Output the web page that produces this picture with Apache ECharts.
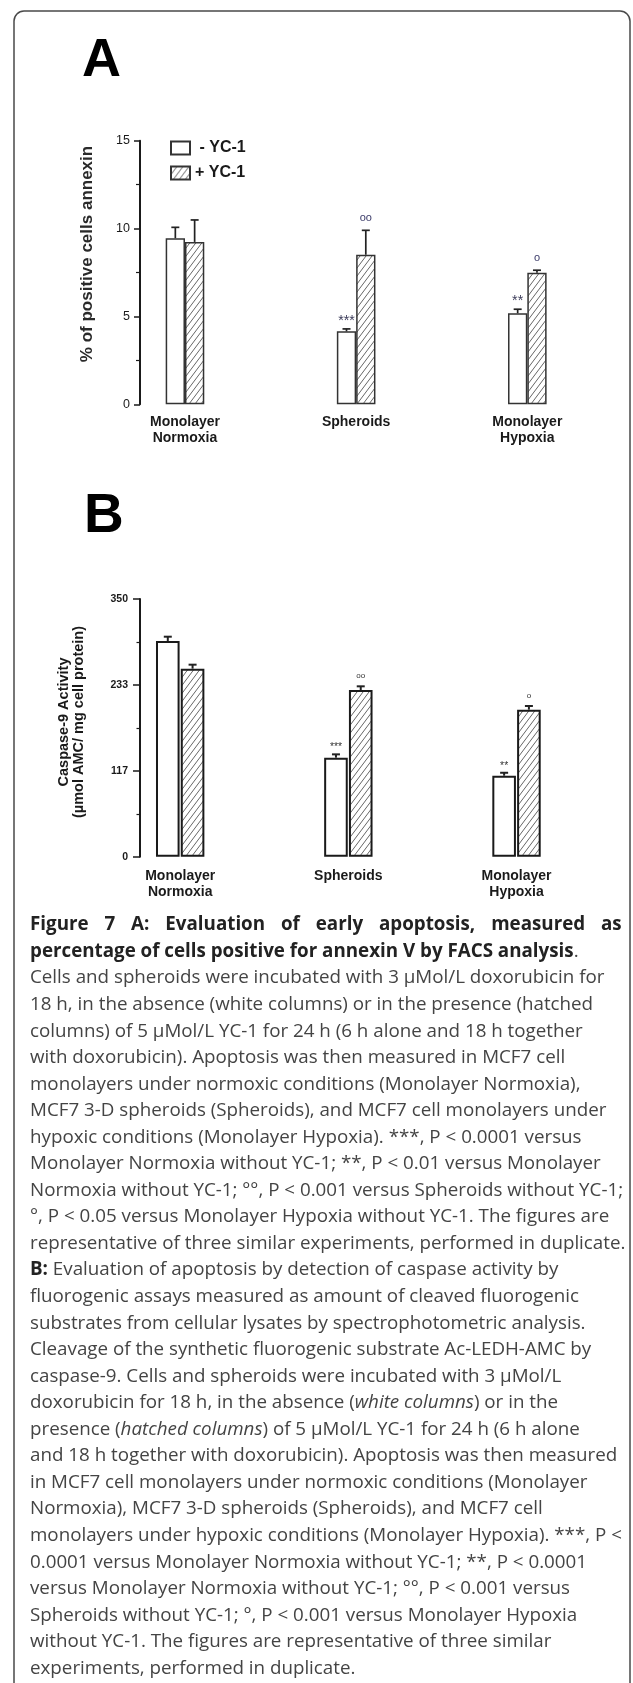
<!DOCTYPE html>
<html><head><meta charset="utf-8">
<script src="https://cdn.jsdelivr.net/npm/echarts@6/dist/echarts.min.js"></script>
<style>html,body{margin:0;padding:0;background:#fff}#c{width:633px;height:1683px}</style>
</head><body><div id="c"></div>
<script>
// ---------------- data ----------------
const categories = ['Monolayer\nNormoxia', 'Spheroids', 'Monolayer\nHypoxia'];
const seriesNames = ['- YC-1', '+ YC-1'];

// Panel A: % of positive cells annexin
const annexinTicks = [0, 5, 10, 15];
const annexinWithout = [9.45, 4.15, 5.18];
const annexinWithoutSD = [0.62, 0.14, 0.23];
const annexinWith = [9.24, 8.51, 7.49];
const annexinWithSD = [1.25, 1.39, 0.14];
const annexinMarksWithout = ['', '***', '**'];
const annexinMarksWith = ['', 'oo', 'o'];

// Panel B: Caspase-9 activity
const caspaseTicks = [0, 117, 233, 350];
const caspaseWithout = [293, 134.5, 110];
const caspaseWithoutSD = [5.8, 4.5, 4];
const caspaseWith = [255.4, 226.4, 199.7];
const caspaseWithSD = [5.4, 5, 5];
const caspaseMarksWithout = ['', '***', '**'];
const caspaseMarksWith = ['', 'oo', 'o'];

const captionHeading = 'Figure 7 A: Evaluation of early apoptosis, measured as';
const captionLines = [
  '{b|percentage of cells positive for annexin V by FACS analysis}.',
  'Cells and spheroids were incubated with 3 µMol/L doxorubicin for',
  '18 h, in the absence (white columns) or in the presence (hatched',
  'columns) of 5 µMol/L YC-1 for 24 h (6 h alone and 18 h together',
  'with doxorubicin). Apoptosis was then measured in MCF7 cell',
  'monolayers under normoxic conditions (Monolayer Normoxia),',
  'MCF7 3-D spheroids (Spheroids), and MCF7 cell monolayers under',
  'hypoxic conditions (Monolayer Hypoxia). ***, P < 0.0001 versus',
  'Monolayer Normoxia without YC-1; **, P < 0.01 versus Monolayer',
  'Normoxia without YC-1; °°, P < 0.001 versus Spheroids without YC-1;',
  '°, P < 0.05 versus Monolayer Hypoxia without YC-1. The figures are',
  'representative of three similar experiments, performed in duplicate.',
  '{b|B:} Evaluation of apoptosis by detection of caspase activity by',
  'fluorogenic assays measured as amount of cleaved fluorogenic',
  'substrates from cellular lysates by spectrophotometric analysis.',
  'Cleavage of the synthetic fluorogenic substrate Ac-LEDH-AMC by',
  'caspase-9. Cells and spheroids were incubated with 3 µMol/L',
  'doxorubicin for 18 h, in the absence ({i|white columns}) or in the',
  'presence ({i|hatched columns}) of 5 µMol/L YC-1 for 24 h (6 h alone',
  'and 18 h together with doxorubicin). Apoptosis was then measured',
  'in MCF7 cell monolayers under normoxic conditions (Monolayer',
  'Normoxia), MCF7 3-D spheroids (Spheroids), and MCF7 cell',
  'monolayers under hypoxic conditions (Monolayer Hypoxia). ***, P <',
  '0.0001 versus Monolayer Normoxia without YC-1; **, P < 0.0001',
  'versus Monolayer Normoxia without YC-1; °°, P < 0.001 versus',
  'Spheroids without YC-1; °, P < 0.001 versus Monolayer Hypoxia',
  'without YC-1. The figures are representative of three similar',
  'experiments, performed in duplicate.'
];

// ---------------- helpers ----------------
const SANS = '"Liberation Sans", Arial, Helvetica, sans-serif';
const CAP = '"Open Sans", "Noto Sans", sans-serif';

function hatch() {
  const c = document.createElement('canvas');
  c.width = 6; c.height = 8;
  const g = c.getContext('2d');
  g.fillStyle = '#fff'; g.fillRect(0, 0, 6, 8);
  g.strokeStyle = '#555'; g.lineWidth = 0.9;
  g.beginPath();
  for (const dx of [-6, 0, 6]) { g.moveTo(dx, 8); g.lineTo(dx + 6, 0); }
  g.stroke();
  return { image: c, repeat: 'repeat' };
}
const hatchFill = hatch();

const mctx = document.createElement('canvas').getContext('2d');
function tw(font, s) { mctx.font = font; return mctx.measureText(s).width; }

function errorSeries(name, gi, vals, sds, marks, side, barW, gap, cap, lw, mSize, mGap, mColor) {
  return {
    type: 'custom', name: name, xAxisIndex: gi, yAxisIndex: gi, z: 5, silent: true,
    data: vals.map((v, i) => [i, v, sds[i]]),
    renderItem: function (params, api) {
      const i = api.value(0), v = api.value(1), sd = api.value(2);
      const p0 = api.coord([i, v]);
      const p1 = api.coord([i, v + sd]);
      const x = p0[0] + side * barW * (1 + gap) / 2;
      const children = [
        { type: 'line', shape: { x1: x, y1: p0[1], x2: x, y2: p1[1] }, style: { stroke: '#222', lineWidth: lw } },
        { type: 'line', shape: { x1: x - cap / 2, y1: p1[1], x2: x + cap / 2, y2: p1[1] }, style: { stroke: '#222', lineWidth: lw } }
      ];
      const m = marks[params.dataIndex];
      if (m) {
        const star = m.indexOf('*') >= 0;
        const sz = star ? mSize * 1.3 : mSize;
        const corr = star ? 0.28 * sz : 0.05 * sz;
        children.push({ type: 'text', x: x, y: p1[1] - mGap + corr,
          style: { text: m, font: sz + 'px ' + SANS, fill: mColor, align: 'center', verticalAlign: 'middle' } });
      }
      return { type: 'group', children: children };
    }
  };
}

// ---------------- layout ----------------
const barWA = 19.3, gapA = 0;
const barWB = 23.6, gapB = 0.05;

const graphics = [];
graphics.push({ type: 'rect', shape: { x: 14, y: 11, width: 616, height: 1700, r: 10 },
  style: { fill: 'none', stroke: '#4a4a4a', lineWidth: 1.5 }, silent: true });
graphics.push({ type: 'text', x: 82, y: 61, style: { text: 'A', font: 'bold 54px ' + SANS, fill: '#000', align: 'left', verticalAlign: 'middle' } });
graphics.push({ type: 'text', x: 84, y: 517, style: { text: 'B', font: 'bold 55px ' + SANS, fill: '#000', align: 'left', verticalAlign: 'middle' } });
graphics.push({ type: 'text', x: 87.5, y: 254, rotation: Math.PI / 2,
  style: { text: '% of positive cells annexin', font: 'bold 17px ' + SANS, fill: '#2a2a2a', align: 'center', verticalAlign: 'middle' } });
graphics.push({ type: 'text', x: 71, y: 722, rotation: Math.PI / 2,
  style: { text: 'Caspase-9 Activity\n(µmol AMC/ mg cell protein)', font: 'bold 14.5px ' + SANS, lineHeight: 15, fill: '#1a1a1a', align: 'center', verticalAlign: 'middle' } });

// caption
const capRefW = tw('100px ' + CAP, 'Cells and spheroids were incubated with 3 µMol/L doxorubicin for');
const capFs = +(100 * 575 / capRefW).toFixed(2);
const fReg = capFs + 'px ' + CAP, fBold = 'bold ' + capFs + 'px ' + CAP, fIt = 'italic ' + capFs + 'px ' + CAP;
const capX = 30, capY0 = 925, capStep = 26.55;
const capColor = '#444', capBoldColor = '#222';
(function () {
  const words = captionHeading.split(' ');
  const ws = words.map(w => tw(fBold, w));
  const total = ws.reduce((a, b) => a + b, 0);
  const gap = (591.7 - total) / (words.length - 1);
  let x = capX;
  words.forEach((w, k) => {
    graphics.push({ type: 'text', x: x, y: capY0, style: { text: w, font: fBold, fill: capBoldColor, align: 'left', verticalAlign: 'middle' } });
    x += ws[k] + gap;
  });
})();
captionLines.forEach((ln, k) => {
  graphics.push({ type: 'text', x: capX, y: capY0 + (k + 1) * capStep,
    style: { text: ln, font: fReg, fill: capColor, align: 'left', verticalAlign: 'middle',
      rich: { b: { font: fBold, fill: capBoldColor }, i: { font: fIt, fill: capColor } } } });
});

function yAxisCfg(gi, ticks, offset, labelWeight, labelSize, tickLen, minorLen, margin, lineW) {
  const mn = ticks[0], mx = ticks[ticks.length - 1];
  return {
    type: 'value', gridIndex: gi, min: mn, max: mx, interval: (mx - mn) / (ticks.length - 1), offset: offset,
    axisLine: { show: true, lineStyle: { color: '#1a1a1a', width: lineW } },
    axisTick: { show: true, length: tickLen, lineStyle: { color: '#1a1a1a', width: 1.5 } },
    minorTick: { show: true, splitNumber: 2, length: minorLen, lineStyle: { color: '#1a1a1a', width: 1.2 } },
    splitLine: { show: false },
    axisLabel: { margin: margin, color: '#1a1a1a', fontFamily: SANS, fontWeight: labelWeight, fontSize: labelSize,
      formatter: v => String(Math.round(v)) }
  };
}
function xAxisCfg(gi, margin) {
  return {
    type: 'category', gridIndex: gi, data: categories,
    axisLine: { show: false }, axisTick: { show: false },
    axisLabel: { interval: 0, margin: margin, lineHeight: 16, fontFamily: SANS, fontWeight: 'bold', fontSize: 14, color: '#1a1a1a' }
  };
}

const option = {
  animation: false,
  backgroundColor: '#fff',
  grid: [
    { left: 99.4, width: 513.5, top: 140.7, height: 263.6 },
    { left: 96.1, width: 504.5, top: 599, height: 257.7 }
  ],
  xAxis: [xAxisCfg(0, 10), xAxisCfg(1, 11)],
  yAxis: [
    yAxisCfg(0, annexinTicks, -40.6, 'normal', 12.5, 6, 4, 10, 2),
    yAxisCfg(1, caspaseTicks, -43.9, 'bold', 10.5, 7, 3.5, 12, 2)
  ],
  legend: {
    data: seriesNames, orient: 'vertical', left: 170, top: 140, padding: 0, itemWidth: 19, itemHeight: 13, itemGap: 9,
    selectedMode: false, icon: 'rect',
    formatter: n => (n.charAt(0) === '-' ? ' ' + n : n),
    textStyle: { fontFamily: SANS, fontWeight: 'bold', fontSize: 16, color: '#1a1a1a', lineHeight: 14 }
  },
  graphic: { elements: graphics },
  series: [
    { type: 'bar', name: seriesNames[0], xAxisIndex: 0, yAxisIndex: 0, data: annexinWithout, barWidth: barWA, barGap: (gapA * 100) + '%',
      itemStyle: { color: '#fff', borderColor: '#333', borderWidth: 1.5 } },
    { type: 'bar', name: seriesNames[1], xAxisIndex: 0, yAxisIndex: 0, data: annexinWith, barWidth: barWA, barGap: (gapA * 100) + '%',
      itemStyle: { color: hatchFill, borderColor: '#333', borderWidth: 1.5 } },
    errorSeries('errA1', 0, annexinWithout, annexinWithoutSD, annexinMarksWithout, -1, barWA, gapA, 8, 1.7, 11, 12, '#3c3c5a'),
    errorSeries('errA2', 0, annexinWith, annexinWithSD, annexinMarksWith, 1, barWA, gapA, 8, 1.7, 11, 13, '#3c3c6a'),
    { type: 'bar', name: 'B ' + seriesNames[0], xAxisIndex: 1, yAxisIndex: 1, data: caspaseWithout, barWidth: barWB, barGap: (gapB * 100) + '%',
      itemStyle: { color: '#fff', borderColor: '#1a1a1a', borderWidth: 2 } },
    { type: 'bar', name: 'B ' + seriesNames[1], xAxisIndex: 1, yAxisIndex: 1, data: caspaseWith, barWidth: barWB, barGap: (gapB * 100) + '%',
      itemStyle: { color: hatchFill, borderColor: '#1a1a1a', borderWidth: 2 } },
    errorSeries('errB1', 1, caspaseWithout, caspaseWithoutSD, caspaseMarksWithout, -1, barWB, gapB, 8, 2, 8, 10, '#333'),
    errorSeries('errB2', 1, caspaseWith, caspaseWithSD, caspaseMarksWith, 1, barWB, gapB, 8, 2, 8, 11, '#333')
  ]
};

const chart = echarts.init(document.getElementById('c'), null, { renderer: 'canvas', width: 633, height: 1683 });
chart.setOption(option);
</script>
</body></html>
